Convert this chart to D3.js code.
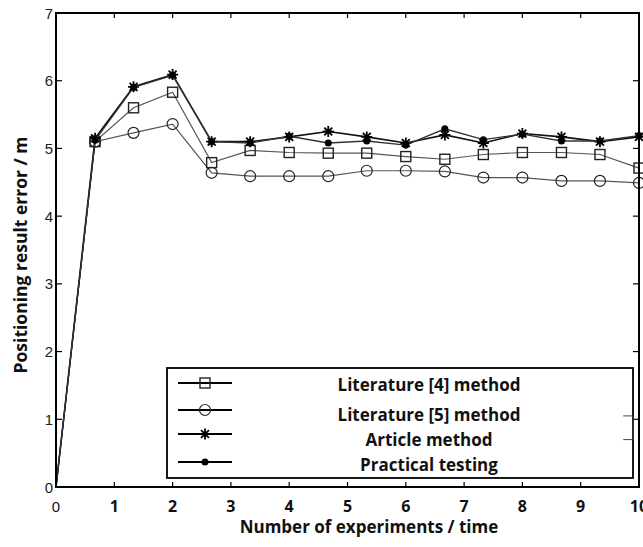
<!DOCTYPE html>
<html>
<head>
<meta charset="utf-8">
<script src="https://cdn.jsdelivr.net/npm/d3@7"></script>
<style>
body { margin: 0; background: #fff; }
svg { display: block; }
</style>
</head>
<body>
<div id="vis"></div>
<script>
var width = 643,
	height = 547;

// experiment index (x) and the four series
var xVals = [0, 0.67, 1.33, 2, 2.67, 3.33, 4, 4.67, 5.33, 6, 6.67, 7.33, 8, 8.67, 9.33, 10];
var lit4 = [0, 5.1, 5.6, 5.83, 4.79, 4.97, 4.94, 4.93, 4.93, 4.88, 4.84, 4.91, 4.94, 4.94, 4.91, 4.71];
var lit5 = [0, 5.1, 5.23, 5.36, 4.64, 4.59, 4.59, 4.59, 4.67, 4.67, 4.66, 4.57, 4.57, 4.52, 4.52, 4.49];
var article = [0, 5.15, 5.91, 6.09, 5.1, 5.1, 5.17, 5.25, 5.17, 5.08, 5.2, 5.08, 5.22, 5.17, 5.1, 5.17];
var practical = [0, 5.12, 5.9, 6.08, 5.1, 5.08, 5.18, 5.08, 5.11, 5.05, 5.29, 5.13, 5.21, 5.11, 5.11, 5.19];

var seriesNames = ["Literature [4] method", "Literature [5] method", "Article method", "Practical testing"];
var seriesKeys = ["square", "circle", "star", "dot"];
var xTicks = [0, 1, 2, 3, 4, 5, 6, 7, 8, 9, 10];
var yTicks = [0, 1, 2, 3, 4, 5, 6, 7];

var x = d3.scaleLinear().domain([0, 10]).range([56, 639]),
	y = d3.scaleLinear().domain([0, 7]).range([487, 13]);

var svg = d3.select('#vis')
		.append('svg')
		.attr('width', width)
		.attr('height', height);

var boldFont = "'Open Sans', sans-serif",
	plainFont = "'Liberation Sans', Arial, sans-serif";

// markers
function drawMarker(g, kind, cx, cy) {
	if (kind == "square") {
		g.append("rect")
			.attr("x", cx - 5).attr("y", cy - 5)
			.attr("width", 10).attr("height", 10)
			.style("fill", "none").style("stroke", "#222").style("stroke-width", 1.4);
	} else if (kind == "circle") {
		g.append("circle")
			.attr("cx", cx).attr("cy", cy).attr("r", 5.5)
			.style("fill", "none").style("stroke", "#222").style("stroke-width", 1.2);
	} else if (kind == "star") {
		var r = 5.5, d = r * 0.72;
		g.append("path")
			.attr("d", "M" + (cx - r) + "," + cy + "H" + (cx + r) +
				"M" + cx + "," + (cy - r) + "V" + (cy + r) +
				"M" + (cx - d) + "," + (cy - d) + "L" + (cx + d) + "," + (cy + d) +
				"M" + (cx - d) + "," + (cy + d) + "L" + (cx + d) + "," + (cy - d))
			.style("stroke", "#000").style("stroke-width", 1.8);
	} else {
		g.append("circle")
			.attr("cx", cx).attr("cy", cy).attr("r", 3.5)
			.style("fill", "#000");
	}
}

var allSeries = [
	{ key: "circle", vals: lit5, stroke: "#555", sw: 1.2 },
	{ key: "square", vals: lit4, stroke: "#555", sw: 1.2 },
	{ key: "star", vals: article, stroke: "#111", sw: 1.6 },
	{ key: "dot", vals: practical, stroke: "#333", sw: 1.3 }
];

var line = d3.line()
	.x(function(d) { return x(d[0]); })
	.y(function(d) { return y(d[1]); });

allSeries.forEach(function(s) {
	var pts = xVals.map(function(v, i) { return [v, s.vals[i]]; });
	svg.append("path")
		.attr("d", line(pts))
		.style("fill", "none")
		.style("stroke", s.stroke)
		.style("stroke-width", s.sw);
	var g = svg.append("g");
	pts.forEach(function(p, i) {
		if (i == 0) return;
		drawMarker(g, s.key, x(p[0]), y(p[1]));
	});
});

// frame
svg.append("rect")
	.attr("x", x(0)).attr("y", y(7))
	.attr("width", x(10) - x(0)).attr("height", y(0) - y(7))
	.style("fill", "none").style("stroke", "#000").style("stroke-width", 2);

// ticks (inward)
var tickG = svg.append("g").style("stroke", "#000").style("stroke-width", 1.2);
xTicks.slice(1, 10).forEach(function(t) {
	tickG.append("line").attr("x1", x(t)).attr("x2", x(t)).attr("y1", y(7)).attr("y2", y(7) + 5);
	tickG.append("line").attr("x1", x(t)).attr("x2", x(t)).attr("y1", y(0)).attr("y2", y(0) - 5);
});
yTicks.slice(1, 7).forEach(function(t) {
	tickG.append("line").attr("x1", x(0)).attr("x2", x(0) + 6).attr("y1", y(t)).attr("y2", y(t));
	tickG.append("line").attr("x1", x(10)).attr("x2", x(10) - 6).attr("y1", y(t)).attr("y2", y(t));
});

// y tick labels
svg.selectAll(".ylab")
	.data(yTicks)
	.enter()
	.append("text")
	.attr("x", x(0) - 3)
	.attr("y", function(d) { return y(d) + 5.5; })
	.attr("text-anchor", "end")
	.style("font-family", plainFont)
	.style("font-size", "15px")
	.style("fill", "#222")
	.text(function(d) { return d; });

// x tick labels
svg.selectAll(".xlab")
	.data(xTicks)
	.enter()
	.append("text")
	.attr("x", function(d) { return x(d); })
	.attr("y", 512)
	.attr("text-anchor", "middle")
	.style("font-family", function(d) { return d == 0 ? plainFont : boldFont; })
	.style("font-weight", function(d) { return d == 0 ? "normal" : "bold"; })
	.style("font-size", function(d) { return d == 0 ? "15px" : "16px"; })
	.style("fill", "#111")
	.text(function(d) { return d; });

// axis titles
svg.append("text")
	.attr("x", 369)
	.attr("y", 533)
	.attr("text-anchor", "middle")
	.style("font-family", boldFont)
	.style("font-weight", "bold")
	.style("font-size", "17px")
	.style("fill", "#111")
	.text("Number of experiments / time");

svg.append("text")
	.attr("transform", "translate(27,255) rotate(-90)")
	.attr("text-anchor", "middle")
	.style("font-family", boldFont)
	.style("font-weight", "bold")
	.style("font-size", "17.5px")
	.style("fill", "#111")
	.text("Positioning result error / m");

// legend
var legend = svg.append("g");
legend.append("rect")
	.attr("x", 167).attr("y", 368)
	.attr("width", 466).attr("height", 110)
	.style("fill", "#fff").style("stroke", "#000").style("stroke-width", 1.8);

var rowY = [383, 410, 434, 462],
	textY = [391, 421, 446, 471];

seriesKeys.forEach(function(k, i) {
	legend.append("line")
		.attr("x1", 178).attr("x2", 232)
		.attr("y1", rowY[i]).attr("y2", rowY[i])
		.style("stroke", "#000").style("stroke-width", 1.8);
	drawMarker(legend, k, 205, rowY[i]);
	legend.append("text")
		.attr("x", 429)
		.attr("y", textY[i])
		.attr("text-anchor", "middle")
		.style("font-family", boldFont)
		.style("font-weight", "bold")
		.style("font-size", "17px")
		.style("fill", "#111")
		.text(seriesNames[i]);
});

// small bracket on the right edge of the legend area
svg.append("path")
	.attr("d", "M" + x(9.73) + "," + y(1.05) + "H" + x(9.9) + "V" + y(0.7) + "H" + x(9.73))
	.style("fill", "none").style("stroke", "#444").style("stroke-width", 1);
</script>
</body>
</html>
